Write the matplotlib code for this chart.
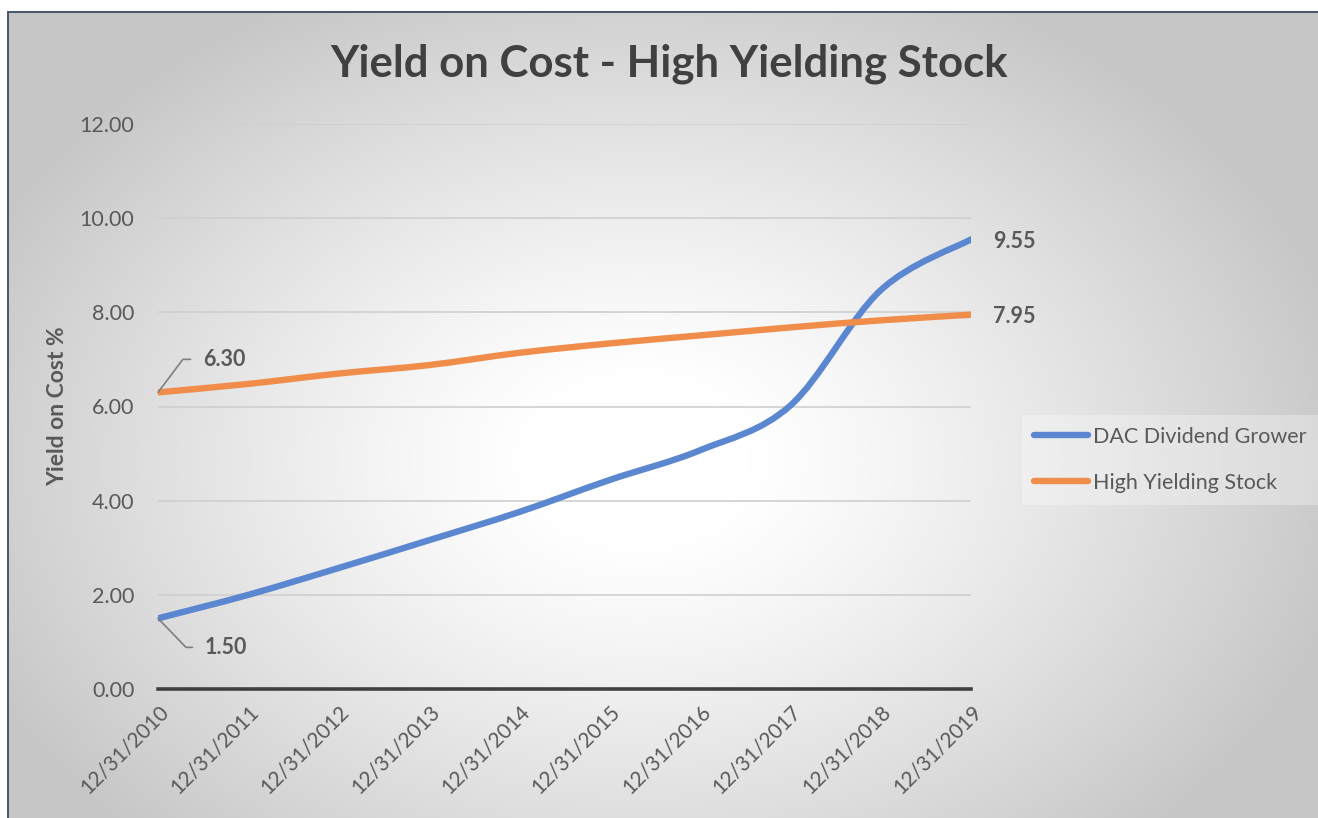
import numpy as np
from matplotlib import pyplot as plt
from matplotlib.path import Path
from matplotlib.patches import PathPatch

plt.rcParams['font.family'] = ['Lato', 'DejaVu Sans']

# data
dates = ['12/31/2010', '12/31/2011', '12/31/2012', '12/31/2013', '12/31/2014',
         '12/31/2015', '12/31/2016', '12/31/2017', '12/31/2018', '12/31/2019']
dac_grower = [1.50, 2.00, 2.57, 3.16, 3.76, 4.44, 5.07, 6.02, 8.47, 9.55]
high_yield = [6.30, 6.48, 6.70, 6.88, 7.14, 7.34, 7.51, 7.68, 7.83, 7.95]

BLUE = '#5b87d1'
ORANGE = '#f08d4b'
TXT = '#595959'


def smooth_path(xs, ys):
    """Excel-like smoothed line as cubic Bezier segments through the points"""
    pts = np.column_stack([xs, ys]).astype(float)
    n = len(pts)
    verts = [pts[0]]
    codes = [Path.MOVETO]
    for i in range(n - 1):
        p0 = pts[max(i - 1, 0)]
        p1 = pts[i]
        p2 = pts[i + 1]
        p3 = pts[min(i + 2, n - 1)]
        verts += [p1 + (p2 - p0) / 6, p2 - (p3 - p1) / 6, p2]
        codes += [Path.CURVE4] * 3
    return Path(verts, codes)


W, H = 1318, 818
fig = plt.figure(figsize=(W / 100, H / 100), dpi=100)

# background: radial gradient drawn pixel for pixel, dark frame on top/left
gx, gy = np.meshgrid(np.arange(W), np.arange(H))
r = np.sqrt(((gx - 640) / 720.0) ** 2 + ((gy - 460) / 520.0) ** 2)
shade = 1.0 - 0.22 * np.clip((r - 0.15) / 0.85, 0, 1) ** 1.2
shade[:12, :] = 1.0
shade[:, :8] = 1.0
frame = np.array([0x4a, 0x5a, 0x6b]) / 255
rgb = np.repeat(shade[:, :, None], 3, axis=2)
rgb[11:13, 7:] = frame
rgb[11:, 7:9] = frame
fig.figimage(rgb, xo=0, yo=0, origin='upper', zorder=-10)

ax = fig.add_axes([158 / W, 1 - 689 / H, (971 - 158) / W, (689 - 124) / H])
ax.patch.set_alpha(0)
x = np.arange(len(dates))

for vals, color, name in [(dac_grower, BLUE, 'DAC Dividend Grower'),
                          (high_yield, ORANGE, 'High Yielding Stock')]:
    ax.add_patch(PathPatch(smooth_path(x, vals), fill=False, edgecolor=color,
                           lw=4.6, capstyle='round', zorder=3))
    ax.plot([], [], color=color, lw=4.6, solid_capstyle='round', label=name)

ax.set_xlim(0, len(dates) - 1)
ax.set_ylim(0, 12)
ax.set_yticks(np.arange(0, 13, 2))
ax.set_yticklabels([f'{v:.2f}' for v in np.arange(0, 13, 2)])
ax.set_xticks(x)
ax.set_xticklabels(dates, rotation=45, ha='right', va='top', rotation_mode='anchor')
ax.tick_params(axis='both', length=0, colors=TXT)
ax.tick_params(axis='y', labelsize=15.5, pad=17)
ax.tick_params(axis='x', labelsize=15, pad=9)
ax.grid(axis='y', color='#cfcfcf', lw=1.2)
for s in ['top', 'right', 'left']:
    ax.spines[s].set_visible(False)
ax.spines['bottom'].set_color('#404040')
ax.spines['bottom'].set_linewidth(2.6)
ax.spines['bottom'].set_zorder(4)

ax.set_ylabel('Yield on Cost %', fontsize=16.5, fontweight='bold', color=TXT, labelpad=8)
fig.text(669 / W, 1 - 64 / H, 'Yield on Cost - High Yielding Stock', ha='center', va='center',
         fontsize=31.5, fontweight='bold', color='#404040')

# data labels
lbl = dict(fontsize=15.5, fontweight='bold', color=TXT, va='center', ha='left',
           annotation_clip=False)
ax.annotate(f'{high_yield[0]:.2f}', (0, high_yield[0]), xytext=(45, 33), textcoords='offset pixels',
            arrowprops=dict(arrowstyle='-', color='#7f7f7f', lw=1.2, shrinkA=7, shrinkB=0,
                            relpos=(0, 0.5), connectionstyle='angle,angleA=0,angleB=53,rad=0'),
            **lbl)
ax.annotate(f'{dac_grower[0]:.2f}', (0, dac_grower[0]), xytext=(47, -29), textcoords='offset pixels',
            arrowprops=dict(arrowstyle='-', color='#7f7f7f', lw=1.2, shrinkA=7, shrinkB=0,
                            relpos=(0, 0.5), connectionstyle='angle,angleA=0,angleB=-46,rad=0'),
            **lbl)
ax.annotate(f'{dac_grower[-1]:.2f}', (x[-1], dac_grower[-1]), xytext=(22, -2),
            textcoords='offset pixels', **lbl)
ax.annotate(f'{high_yield[-1]:.2f}', (x[-1], high_yield[-1]), xytext=(22, -2),
            textcoords='offset pixels', **lbl)

leg = fig.legend(loc='upper left', bbox_to_anchor=(1022 / W, 1 - 415 / H), fontsize=15.5,
                 frameon=True, facecolor='white', edgecolor='none', framealpha=0.3,
                 fancybox=False, handlelength=2.5, handletextpad=0.25, labelspacing=1.2,
                 borderpad=0.55, borderaxespad=0)
for t in leg.get_texts():
    t.set_color(TXT)

fig.savefig('out.png', dpi=100)
